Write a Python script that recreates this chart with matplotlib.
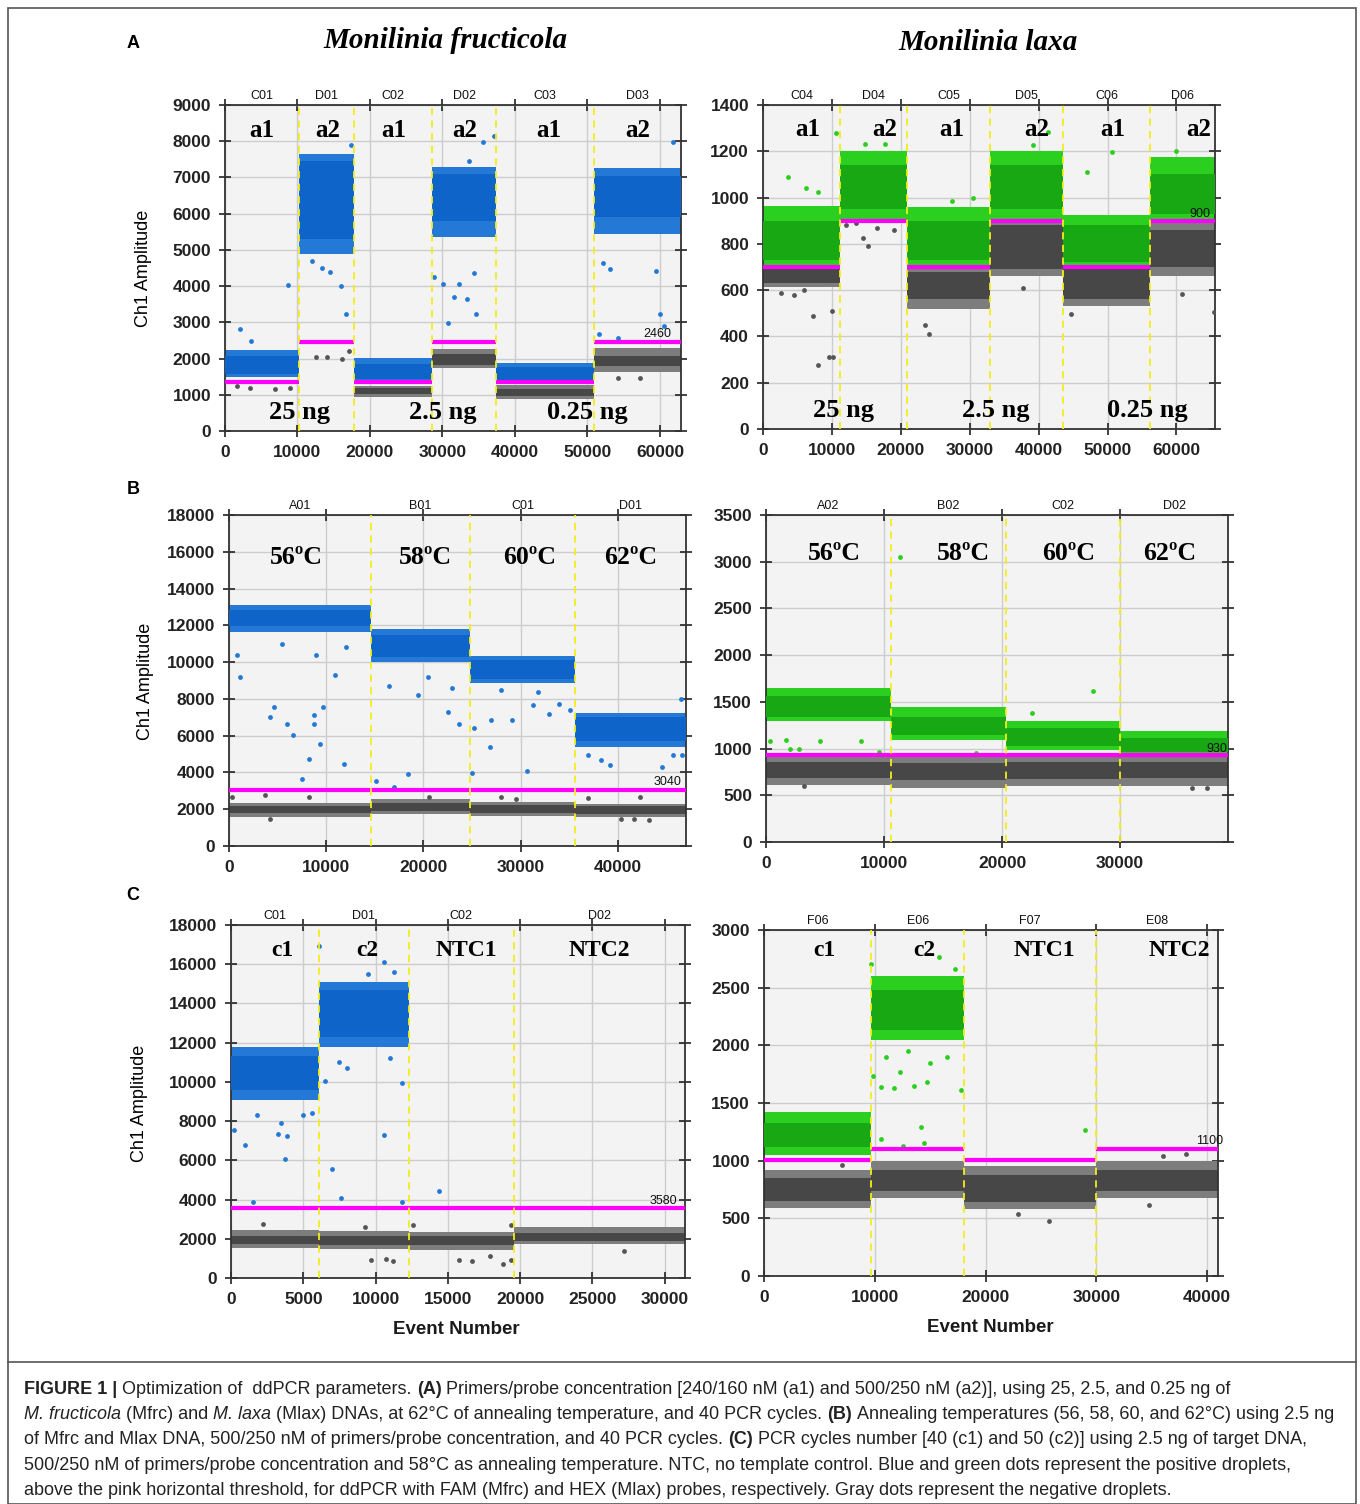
import numpy as np
import matplotlib
matplotlib.use("Agg")
import matplotlib.pyplot as plt
from matplotlib import font_manager
from matplotlib.lines import Line2D
from matplotlib.patches import Rectangle
import matplotlib.transforms as mtransforms

W, H = 1360, 1504

# ---- Panel A: primer/probe concentration, 62 C ----
# droplet bands per well: (low, core low, core high, high); None = no droplets
fru_a_wells = ["C01", "D01", "C02", "D02", "C03", "D03"]
fru_a_edges = [0, 10150, 17770, 28530, 37410, 50860, 62900]
fru_a_thresh = [1360, 2460, 1360, 2460, 1360, 2460]
fru_a_pos = [(1480, 1580, 2080, 2230), (4900, 5300, 7450, 7650), (1360, 1430, 1850, 2020),
             (5350, 5800, 7100, 7300), (1360, 1420, 1760, 1880), (5450, 5900, 7050, 7250)]
fru_a_neg = [None, None, (930, 1030, 1190, 1250), (1740, 1820, 2130, 2260),
             (880, 980, 1170, 1260), (1620, 1800, 2080, 2280)]
fru_a_out_pos = [(2130, 2810), (3650, 2490), (8730, 4020), (16000, 4000), (16700, 3220),
                 (28780, 4240), (30050, 4050), (30800, 2970), (31600, 3700), (32300, 4050),
                 (33450, 3650), (34600, 3220), (34370, 4370), (52130, 4650), (53150, 4470),
                 (59500, 4420), (60000, 3220), (60500, 2900), (61800, 7970), (37160, 8150),
                 (35640, 7970), (33600, 7460), (51600, 2670), (54160, 2580), (12000, 4700),
                 (14500, 4400), (13400, 4500), (17400, 7900)]
fru_a_out_neg = [(1620, 1240), (3400, 1180), (6950, 1150), (9000, 1200), (12540, 2030),
                 (14060, 2050), (16100, 1980), (17100, 2210), (54160, 1470), (57200, 1470)]
fru_a_labels = [(5100, "a1"), (14200, "a2"), (23300, "a1"), (33100, "a2"), (44700, "a1"), (57000, "a2")]
fru_a_amounts = [(10300, "25 ng"), (30100, "2.5 ng"), (50000, "0.25 ng")]

lax_a_wells = ["C04", "D04", "C05", "D05", "C06", "D06"]
lax_a_edges = [0, 11230, 20950, 33000, 43600, 56130, 65600]
lax_a_thresh = [700, 900, 700, 900, 700, 900]
lax_a_pos = [(700, 730, 900, 965), (905, 950, 1140, 1200), (700, 730, 900, 960),
             (905, 950, 1140, 1200), (700, 720, 880, 925), (905, 930, 1100, 1175)]
lax_a_neg = [(615, 630, 690, 700), None, (520, 560, 680, 700), (660, 690, 880, 900),
             (530, 560, 690, 700), (660, 700, 860, 900)]
lax_a_out_pos = [(3620, 1087), (6210, 1043), (8020, 1025), (10600, 1279), (47080, 1111),
                 (50700, 1199), (30520, 997), (14740, 1230), (17740, 1231), (41390, 1284),
                 (27500, 985), (39200, 1225), (60000, 1200)]
lax_a_out_neg = [(7240, 488), (8020, 278), (9570, 310), (10090, 310), (9980, 512), (2590, 586),
                 (14490, 827), (15260, 791), (23540, 449), (24060, 411), (37770, 610),
                 (44750, 495), (60790, 582), (65440, 505), (12000, 880), (16500, 870),
                 (19000, 860), (13500, 890), (4500, 580), (6000, 600)]
lax_a_labels = [(6550, "a1"), (17600, "a2"), (27400, "a1"), (39700, "a2"), (50800, "a1"), (63200, "a2")]
lax_a_amounts = [(11650, "25 ng"), (33800, "2.5 ng"), (55750, "0.25 ng")]

# ---- Panel B: annealing temperature ----
fru_b_wells = ["A01", "B01", "C01", "D01"]
fru_b_edges = [0, 14600, 24790, 35630, 47030]
fru_b_thresh = [3040, 3040, 3040, 3040]
fru_b_pos = [(11650, 11950, 12850, 13100), (10000, 10300, 11500, 11800),
             (8850, 9100, 10100, 10350), (5400, 5700, 7000, 7250)]
fru_b_neg = [(1600, 1800, 2200, 2350), (1750, 1900, 2350, 2550),
             (1650, 1800, 2250, 2400), (1550, 1750, 2150, 2300)]
fru_b_out_pos = [(840, 10380), (1140, 9200), (4260, 7020), (4640, 7570), (5970, 6660),
                 (6540, 6030), (7490, 3670), (8250, 4750), (8700, 7150), (8700, 6610),
                 (9390, 5520), (9700, 7570), (11860, 4480), (10910, 9290), (15100, 3520),
                 (17000, 3210), (18440, 3940), (19470, 8200), (22510, 7300), (23650, 6660),
                 (24980, 3970), (25170, 6390), (26880, 5390), (26990, 6840), (29160, 6840),
                 (30680, 4070), (31250, 7660), (32970, 7200), (35060, 7390), (36960, 4940),
                 (38290, 4660), (39240, 4430), (44560, 4300), (45700, 4970), (46650, 4970),
                 (5500, 11000), (9000, 10400), (12000, 10800), (16500, 8700), (20500, 9200),
                 (23000, 8600), (28000, 8500), (31800, 8400), (34000, 7700), (46500, 8000)]
fru_b_out_neg = [(270, 2670), (3690, 2760), (8250, 2670), (4260, 1490), (20600, 2670),
                 (28020, 2670), (29540, 2580), (36960, 2630), (42280, 2670), (40380, 1490),
                 (41710, 1490), (43230, 1400)]
fru_b_labels = [(6900, "56ºC"), (20200, "58ºC"), (30900, "60ºC"), (41300, "62ºC")]

lax_b_wells = ["A02", "B02", "C02", "D02"]
lax_b_edges = [0, 10600, 20300, 30000, 39150]
lax_b_thresh = [930, 930, 930, 930]
lax_b_pos = [(1300, 1340, 1560, 1650), (1090, 1150, 1340, 1440),
             (990, 1030, 1220, 1300), (940, 960, 1110, 1190)]
lax_b_neg = [(610, 680, 860, 930), (580, 660, 850, 930), (600, 670, 860, 930), (600, 680, 860, 930)]
lax_b_out_pos = [(11360, 3053), (360, 1085), (1730, 1092), (2030, 995), (2790, 995), (4600, 1077),
                 (8030, 1077), (9550, 959), (22580, 1381), (27730, 1621), (17790, 956)]
lax_b_out_neg = [(3180, 601), (36120, 573), (37330, 583)]
lax_b_labels = [(5780, "56ºC"), (16700, "58ºC"), (25600, "60ºC"), (34200, "62ºC")]

# ---- Panel C: number of PCR cycles ----
fru_c_wells = ["C01", "D01", "C02", "D02"]
fru_c_edges = [0, 6060, 12300, 19550, 31410]
fru_c_thresh = [3580, 3580, 3580, 3580]
fru_c_pos = [(9100, 9600, 11300, 11800), (11800, 12300, 14700, 15100), None, None]
fru_c_neg = [(1550, 1750, 2150, 2450), (1500, 1700, 2150, 2400),
             (1450, 1700, 2150, 2350), (1750, 1900, 2300, 2600)]
fru_c_out_pos = [(205, 7570), (976, 6800), (1800, 8330), (1540, 3860), (3240, 7360), (3850, 7260),
                 (3440, 7910), (3750, 6070), (6110, 16920), (6500, 10070), (6960, 5560),
                 (7580, 4080), (10610, 16110), (10560, 7300), (11820, 3860), (11820, 9950),
                 (14380, 4460), (5000, 8300), (5600, 8400), (7500, 11000), (9500, 15500),
                 (11300, 15600), (8000, 10700), (11000, 11200)]
fru_c_out_neg = [(9710, 900), (10740, 970), (11200, 850), (15750, 940), (16650, 850),
                 (17930, 1140), (18830, 710), (19340, 940), (27180, 1360), (2210, 2760),
                 (9300, 2600), (12600, 2700), (19400, 2700)]
fru_c_labels = [(3540, "c1"), (9440, "c2"), (16300, "NTC1"), (25500, "NTC2")]

lax_c_wells = ["F06", "E06", "F07", "E08"]
lax_c_edges = [0, 9680, 18060, 29940, 40970]
lax_c_thresh = [1010, 1100, 1010, 1100]
lax_c_pos = [(1050, 1120, 1330, 1420), (2050, 2130, 2480, 2600), None, None]
lax_c_neg = [(590, 650, 850, 920), (680, 740, 920, 1000), (580, 640, 880, 950), (680, 740, 920, 1000)]
lax_c_out_pos = [(9840, 1733), (10580, 1638), (11770, 1632), (12260, 1768), (13550, 1646),
                 (14680, 1681), (14190, 1290), (14450, 1154), (10580, 1188), (17810, 1609),
                 (28970, 1270), (9680, 2704), (15810, 2768), (17260, 2661), (11000, 1900),
                 (13000, 1950), (15000, 1850), (16500, 1900), (12500, 1130)]
lax_c_out_neg = [(25740, 481), (34770, 617), (22900, 539), (38060, 1058), (7000, 960), (36000, 1040)]
lax_c_labels = [(5460, "c1"), (14440, "c2"), (25280, "NTC1"), (37500, "NTC2")]

BLUE = ("#2479d6", "#0e64c8")
GREEN = ("#2bcf20", "#17a813")
GRAY = ("#7d7d7d", "#474747")
MAGENTA = "#ff00ff"

fig = plt.figure(figsize=(W / 100, H / 100), dpi=100)
fig.patch.set_facecolor("white")

serif = "Liberation Serif"
sans = "Liberation Sans"


def px_axes(box):
    x0, y0, x1, y1 = box
    return fig.add_axes([x0 / W, 1 - y1 / H, (x1 - x0) / W, (y1 - y0) / H])


def bands(ax, edges, data, colors, z):
    for i, b in enumerate(data):
        if b is None:
            continue
        lo, clo, chi, hi = b
        x, w = edges[i], edges[i + 1] - edges[i]
        ax.bar(x, hi - lo, w, bottom=lo, align="edge", color=colors[0], lw=0, zorder=z)
        ax.bar(x, chi - clo, w, bottom=clo, align="edge", color=colors[1], lw=0, zorder=z + 0.1)


def panel(box, xmax, ymax, xstep, ystep, wells, edges, thresh, pos, neg, out_pos, out_neg,
          pos_col, labels, label_y, label_size, thr_text, amounts=None):
    ax = px_axes(box)
    ax.set_facecolor("#f3f3f3")
    ax.set_xlim(0, xmax)
    ax.set_ylim(0, ymax)
    ax.set_xticks(np.arange(0, xmax, xstep))
    ax.set_yticks(np.arange(0, ymax + 1, ystep))
    ax.grid(color="#cdcdcd", lw=1, zorder=0)
    ax.set_axisbelow(True)
    ax.tick_params(direction="inout", length=8, width=1.2, top=True, right=True,
                   labelsize=12.5, pad=6, colors="#222222")
    for lab in ax.get_xticklabels() + ax.get_yticklabels():
        lab.set_fontweight("bold")
        lab.set_family(sans)
    for s in ax.spines.values():
        s.set_color("#333333")
        s.set_linewidth(1.3)

    bands(ax, edges, neg, GRAY, 2)
    bands(ax, edges, pos, pos_col, 2.5)
    if out_pos:
        xs, ys = zip(*out_pos)
        ax.scatter(xs, ys, s=12, color=pos_col[0], lw=0, zorder=4)
    if out_neg:
        xs, ys = zip(*out_neg)
        ax.scatter(xs, ys, s=12, color="#555555", lw=0, zorder=4)
    ax.hlines(thresh, edges[:-1], edges[1:], color=MAGENTA, lw=3, zorder=5)
    for e in edges[1:-1]:
        ax.axvline(e, color="#f2ee1a", lw=1.3, ls=(0, (4, 3)), zorder=6)

    trans = mtransforms.blended_transform_factory(ax.transData, ax.transAxes)
    for i, name in enumerate(wells):
        ax.text((edges[i] + edges[i + 1]) / 2, 1.008, name, transform=trans, ha="center",
                va="bottom", fontsize=9, family=sans, color="#111111")
    for x, txt in labels:
        ax.text(x, label_y, txt, ha="center", va="center", fontsize=label_size,
                family=serif, weight="bold", zorder=7)
    if amounts:
        for x, txt in amounts:
            ax.text(x, ymax * 0.058, txt, ha="center", va="center", fontsize=19,
                    family=serif, weight="bold", zorder=7)
    tx, ty, tt = thr_text
    ax.text(tx, ty, tt, ha="center", va="bottom", fontsize=9, family=sans,
            color="#111111", zorder=7)
    return ax


panel((225, 105, 681, 431), 62900, 9000, 10000, 1000, fru_a_wells, fru_a_edges, fru_a_thresh,
      fru_a_pos, fru_a_neg, fru_a_out_pos, fru_a_out_neg, BLUE, fru_a_labels, 8300, 18,
      (59700, 2500, "2460"), fru_a_amounts)
panel((763, 105, 1215, 429), 65600, 1400, 10000, 200, lax_a_wells, lax_a_edges, lax_a_thresh,
      lax_a_pos, lax_a_neg, lax_a_out_pos, lax_a_out_neg, GREEN, lax_a_labels, 1292, 18,
      (63400, 905, "900"), lax_a_amounts)
panel((229, 515, 686, 846), 47030, 18000, 10000, 2000, fru_b_wells, fru_b_edges, fru_b_thresh,
      fru_b_pos, fru_b_neg, fru_b_out_pos, fru_b_out_neg, BLUE, fru_b_labels, 15700, 18.5,
      (45150, 3150, "3040"))
panel((766, 515, 1228, 842), 39150, 3500, 10000, 500, lax_b_wells, lax_b_edges, lax_b_thresh,
      lax_b_pos, lax_b_neg, lax_b_out_pos, lax_b_out_neg, GREEN, lax_b_labels, 3093, 18.5,
      (38200, 935, "930"))
panel((231, 925, 685, 1278), 31410, 18000, 5000, 2000, fru_c_wells, fru_c_edges, fru_c_thresh,
      fru_c_pos, fru_c_neg, fru_c_out_pos, fru_c_out_neg, BLUE, fru_c_labels, 16700, 17,
      (29900, 3640, "3580"))
panel((764, 930, 1218, 1276), 40970, 3000, 10000, 500, lax_c_wells, lax_c_edges, lax_c_thresh,
      lax_c_pos, lax_c_neg, lax_c_out_pos, lax_c_out_neg, GREEN, lax_c_labels, 2820, 17,
      (40200, 1115, "1100"))


def ftext(x, y, s, **kw):
    return fig.text(x / W, 1 - y / H, s, **kw)


# titles, panel letters, axis labels
ftext(445, 40, "Monilinia fructicola", ha="center", va="center", fontsize=21,
      family=serif, weight="bold", style="italic")
ftext(988, 42, "Monilinia laxa", ha="center", va="center", fontsize=21,
      family=serif, weight="bold", style="italic")
for y, letter in [(43, "A"), (490, "B"), (895, "C")]:
    ftext(133, y, letter, ha="center", va="center", fontsize=13, family=sans, weight="bold")
for x, y in [(144, 268), (146, 681), (139, 1103)]:
    ftext(x, y, "Ch1 Amplitude", ha="center", va="center", rotation=90, fontsize=13, family=sans)
for x, y in [(456, 1330), (990, 1327)]:
    ftext(x, y, "Event Number", ha="center", va="center", fontsize=13.5, family=sans,
          weight="bold", color="#1a1a1a")

# frame and caption rule
fig.add_artist(Rectangle((8 / W, 0), 1348 / W, 1 - 8 / H, transform=fig.transFigure,
                         fill=False, ec="#555555", lw=1.2))
fig.add_artist(Line2D([8 / W, 1356 / W], [1 - 1362 / H] * 2, transform=fig.transFigure,
                      color="#555555", lw=1.2))

# caption built from runs of differently styled text
try:
    font_manager.findfont("Liberation Sans Narrow", fallback_to_default=False)
    cap_font, cap_size = "Liberation Sans Narrow", 14.5
except ValueError:
    cap_font, cap_size = "Liberation Sans", 13

caption = [
    [("FIGURE 1 |", "b"), (" Optimization of  ddPCR parameters. ", "n"), ("(A)", "b"),
     (" Primers/probe concentration [240/160 nM (a1) and 500/250 nM (a2)], using 25, 2.5, and 0.25 ng of", "n")],
    [("M. fructicola", "i"), (" (Mfrc) and ", "n"), ("M. laxa", "i"),
     (" (Mlax) DNAs, at 62°C of annealing temperature, and 40 PCR cycles. ", "n"), ("(B)", "b"),
     (" Annealing temperatures (56, 58, 60, and 62°C) using 2.5 ng", "n")],
    [("of Mfrc and Mlax DNA, 500/250 nM of primers/probe concentration, and 40 PCR cycles. ", "n"),
     ("(C)", "b"), (" PCR cycles number [40 (c1) and 50 (c2)] using 2.5 ng of target DNA,", "n")],
    [("500/250 nM of primers/probe concentration and 58°C as annealing temperature. NTC, no template control. "
      "Blue and green dots represent the positive droplets,", "n")],
    [("above the pink horizontal threshold, for ddPCR with FAM (Mfrc) and HEX (Mlax) probes, "
      "respectively. Gray dots represent the negative droplets.", "n")],
]

renderer = fig.canvas.get_renderer()


def text_width(s, style):
    t = fig.text(0, 0, s, fontsize=cap_size, family=cap_font,
                 weight="bold" if style == "b" else "normal",
                 style="italic" if style == "i" else "normal")
    w = t.get_window_extent(renderer=renderer).width
    t.remove()
    return w


space_w = text_width("x x", "n") - text_width("xx", "n")

for k, line in enumerate(caption):
    x = 24.0
    y = 1394 + 25.2 * k
    for s, style in line:
        x += space_w * (len(s) - len(s.lstrip(" ")))
        core = s.strip(" ")
        t = ftext(x, y, core, ha="left", va="baseline", fontsize=cap_size, family=cap_font,
                  weight="bold" if style == "b" else "normal",
                  style="italic" if style == "i" else "normal", color="#222222")
        x += t.get_window_extent(renderer=renderer).width
        x += space_w * (len(s) - len(s.rstrip(" ")))

fig.savefig("out.png", dpi=100)
